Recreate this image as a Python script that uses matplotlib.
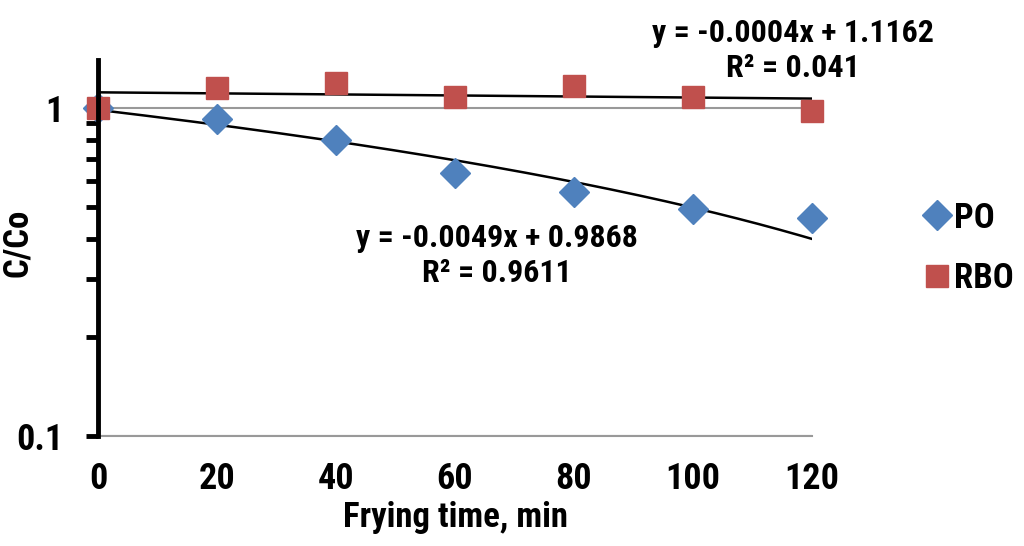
import numpy as np
import matplotlib
matplotlib.use("Agg")
import matplotlib.pyplot as plt
from matplotlib import font_manager as fm
from matplotlib.ticker import LogLocator, NullFormatter, FixedLocator, FixedFormatter

names = {f.name for f in fm.fontManager.ttflist}
fam = "Liberation Sans"
for cand in ["Liberation Sans Narrow", "Roboto Condensed", "Arial Narrow"]:
    if cand in names:
        fam = cand
        break
plt.rcParams['font.family'] = [fam, 'DejaVu Sans']
plt.rcParams['font.weight'] = 'bold'

# frying time, min
time = [0, 20, 40, 60, 80, 100, 120]
# C/Co
po = [1.0, 0.926, 0.799, 0.635, 0.553, 0.492, 0.461]
rbo = [1.0, 1.148, 1.19, 1.083, 1.167, 1.083, 0.979]

# trendline coefficients, as printed on the chart
po_slope, po_icpt, po_r2 = -0.0049, 0.9868, "0.9611"
rbo_slope, rbo_icpt, rbo_r2 = -0.0004, 1.1162, "0.041"

blue = "#4F81BD"
red = "#C0504D"
fs = 23

fig = plt.figure(figsize=(10.24, 5.46), dpi=100)
ax = fig.add_axes([0.0957, 0.2015, 0.6973, 0.6885])

xx = np.linspace(0, 120, 200)
ax.plot(xx, po_slope * xx + po_icpt, color="black", lw=1.8, zorder=3)
ax.plot(xx, rbo_slope * xx + rbo_icpt, color="black", lw=1.8, zorder=3)

ax.plot(time, po, 'D', color=blue, ms=15, mec=blue, label="PO", zorder=4,
        clip_on=False)
ax.plot(time, rbo, 's', color=red, ms=16, mec=red, label="RBO", zorder=4,
        clip_on=False)

ax.set_yscale("log")
ax.set_ylim(0.1, 1.4)
ax.set_xlim(0, 120)
ax.set_xticks(time)

ax.yaxis.set_major_locator(FixedLocator([0.1, 1]))
ax.yaxis.set_major_formatter(FixedFormatter(["0.1", "1"]))
ax.yaxis.set_minor_locator(LogLocator(base=10, subs=np.arange(2, 10)))
ax.yaxis.set_minor_formatter(NullFormatter())

ax.grid(True, axis='y', which='major', color="#999999", lw=1.5, zorder=1)

for s in ["top", "right"]:
    ax.spines[s].set_visible(False)
ax.spines["bottom"].set_color("#999999")
ax.spines["bottom"].set_linewidth(1.5)
ax.spines["left"].set_linewidth(3.5)
ax.spines["left"].set_zorder(5)

ax.tick_params(axis='y', which='both', direction='out', length=9, width=3.5,
               labelsize=fs + 3, pad=16)
ax.tick_params(axis='x', length=0, labelsize=fs + 3, pad=18)

ax.set_xlabel("Frying time, min", fontsize=fs + 2, fontweight='bold', labelpad=3)
ax.set_ylabel("C/Co", fontsize=fs + 2, fontweight='bold')
ax.yaxis.set_label_coords(-0.09, 0.513)

ax.text(0.559, 0.48, "y = %.4fx + %.4f\nR² = %s" % (po_slope, po_icpt, po_r2),
        transform=ax.transAxes, ha='center', va='center', fontsize=fs,
        fontweight='bold', linespacing=1.2)
fig.text(0.774, 0.908, "y = %.4fx + %.4f\nR² = %s" % (rbo_slope, rbo_icpt, rbo_r2),
         ha='center', va='center', fontsize=fs, fontweight='bold',
         linespacing=1.2)

fig.legend(loc='center left', bbox_to_anchor=(0.905, 0.545), frameon=False,
           fontsize=fs + 2, handlelength=0.6, handletextpad=0.2, labelspacing=0.8,
           borderaxespad=0, borderpad=0)

fig.savefig("out.png", dpi=100)
